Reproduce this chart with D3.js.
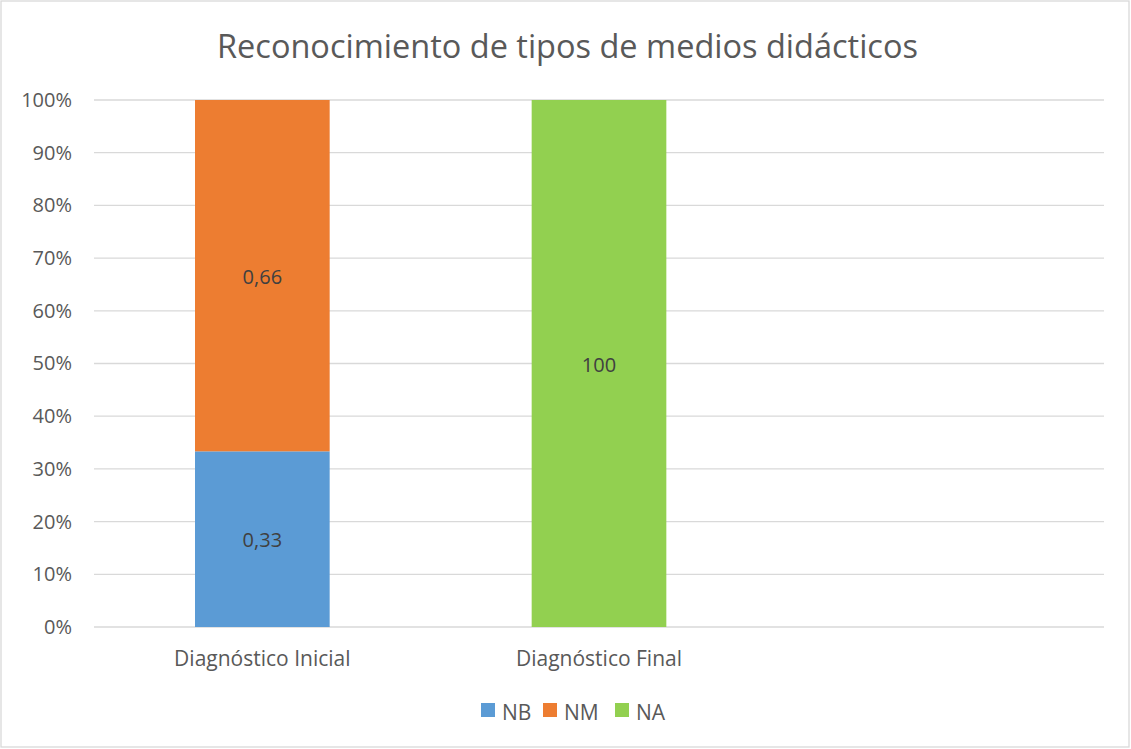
<!DOCTYPE html>
<meta charset="utf-8">
<style>
body { margin: 0; background: #fff; }
text { font-family: "Open Sans", Lato, sans-serif; }
.grid line { stroke: #d9d9d9; stroke-width: 1.3px; }
</style>
<svg width="1131" height="749"></svg>
<script src="https://d3js.org/d3.v7.min.js"></script>
<script>

var categories = ["Diagnóstico Inicial", "Diagnóstico Final", ""];
var seriesNames = ["NB", "NM", "NA"];
var colors = ["#5b9bd5", "#ed7d31", "#92d050"];
var NB = [0.33, 0, null];
var NM = [0.66, 0, null];
var NA = [0, 100, null];
var yTicks = [0, 0.1, 0.2, 0.3, 0.4, 0.5, 0.6, 0.7, 0.8, 0.9, 1];

var svg = d3.select("svg"),
    width = +svg.attr("width"),
    height = +svg.attr("height");

var margin = {left: 94, right: 27, top: 100, bottom: 122};
var font = "'Open Sans', Lato, sans-serif";

svg.append("rect")
    .attr("x", 1).attr("y", 1)
    .attr("width", width - 3).attr("height", height - 3)
    .attr("fill", "#fff").attr("stroke", "#d9d9d9").attr("stroke-width", 1.3);

svg.append("text")
    .attr("x", width / 2 + 2).attr("y", 58)
    .attr("text-anchor", "middle")
    .attr("font-size", 32.5)
    .attr("fill", "#595959")
    .text("Reconocimiento de tipos de medios didácticos");

var x = d3.scaleBand()
    .domain(d3.range(categories.length))
    .range([margin.left, width - margin.right]);

var y = d3.scaleLinear()
    .domain([0, 1])
    .range([height - margin.bottom, margin.top]);

// gridlines
svg.append("g").attr("class", "grid")
  .selectAll("line").data(yTicks).enter().append("line")
    .attr("x1", margin.left).attr("x2", width - margin.right)
    .attr("y1", function(d) { return y(d); })
    .attr("y2", function(d) { return y(d); });

// y axis labels
var yAxis = d3.axisLeft(y).tickValues(yTicks).tickFormat(d3.format(".0%")).tickSize(0).tickPadding(22);
var gy = svg.append("g").attr("transform", "translate(" + margin.left + ",0)").call(yAxis);
gy.select(".domain").remove();
gy.selectAll("text").attr("font-size", 20).attr("fill", "#595959").attr("font-family", font);

// x axis labels
var xAxis = d3.axisBottom(x).tickFormat(function(i) { return categories[i]; }).tickSize(0).tickPadding(24);
var gx = svg.append("g").attr("transform", "translate(0," + y(0) + ")").call(xAxis);
gx.select(".domain").remove();
gx.selectAll("text").attr("font-size", 21).attr("fill", "#595959").attr("font-family", font);

// build stacked rows, normalised to 100%
var rows = categories.map(function(c, i) {
  return {i: i, NB: NB[i] || 0, NM: NM[i] || 0, NA: NA[i] || 0};
});
var stack = d3.stack().keys(seriesNames).offset(d3.stackOffsetExpand);
var layers = stack(rows);

var barW = x.bandwidth() * 0.4;
var fmt = function(v) { return String(v).replace(".", ","); };

layers.forEach(function(layer, k) {
  var g = svg.append("g");
  var segs = layer.filter(function(d) { return d[1] - d[0] > 0; });
  g.selectAll("rect").data(segs).enter().append("rect")
      .attr("x", function(d) { return x(d.data.i) + (x.bandwidth() - barW) / 2; })
      .attr("width", barW)
      .attr("y", function(d) { return y(d[1]); })
      .attr("height", function(d) { return y(d[0]) - y(d[1]); })
      .attr("fill", colors[k]);
  g.selectAll("text").data(segs).enter().append("text")
      .attr("x", function(d) { return x(d.data.i) + x.bandwidth() / 2; })
      .attr("y", function(d) { return y((d[0] + d[1]) / 2) + 8; })
      .attr("text-anchor", "middle")
      .attr("font-size", 20)
      .attr("fill", "#404040")
      .text(function(d) { return fmt(d.data[layer.key]); });
});

// legend
var legX = [481, 543, 615];
var leg = svg.append("g").selectAll("g").data(seriesNames).enter().append("g")
    .attr("transform", function(d, i) { return "translate(" + legX[i] + ",703)"; });
leg.append("rect").attr("width", 14).attr("height", 14)
    .attr("fill", function(d, i) { return colors[i]; });
leg.append("text").attr("x", 21).attr("y", 17)
    .attr("font-size", 21).attr("fill", "#595959")
    .text(function(d) { return d; });

</script>
